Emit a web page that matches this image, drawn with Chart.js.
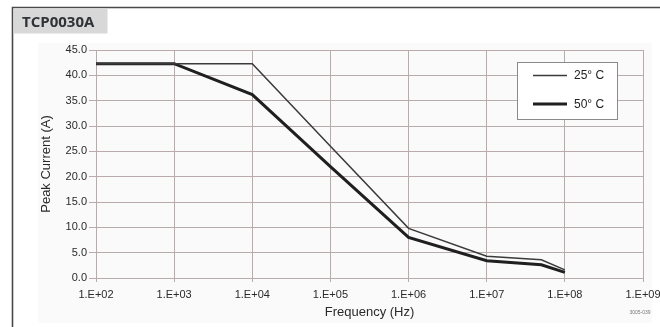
<!DOCTYPE html>
<html>
<head>
<meta charset="utf-8">
<script src="https://cdn.jsdelivr.net/npm/chart.js@4"></script>
<style>
  html, body { margin: 0; padding: 0; background: #fff; }
  #wrap { width: 660px; height: 327px; position: relative; }
</style>
</head>
<body>
<div id="wrap"><canvas id="c" width="660" height="327"></canvas></div>
<script>
// Peak current derating vs. frequency, TCP0030A
const freqHz = [1e2, 1e3, 1e4, 1e5, 1e6, 1e7, 5e7, 1e8];
const peak25C = [42.3, 42.3, 42.3, 26.0, 9.8, 4.3, 3.6, 1.6];
const peak50C = [42.3, 42.3, 36.2, 22.0, 8.0, 3.4, 2.6, 1.1];

const seriesLabels = ['25\u00B0 C', '50\u00B0 C'];
const freqTicks = [1e2, 1e3, 1e4, 1e5, 1e6, 1e7, 1e8, 1e9];
const freqTickLabels = ['1.E+02', '1.E+03', '1.E+04', '1.E+05', '1.E+06', '1.E+07', '1.E+08', '1.E+09'];
const currentTicks = [0, 5, 10, 15, 20, 25, 30, 35, 40, 45];
const currentTickLabels = ['0.0', '5.0', '10.0', '15.0', '20.0', '25.0', '30.0', '35.0', '40.0', '45.0'];

const toPoints = ys => freqHz.map((f, i) => ({ x: f, y: ys[i] }));

const FONT = "'Liberation Sans', Arial, sans-serif";
const GRID = '#b9abab';

// Page frame, title tab, legend box and figure number
const decor = {
  id: 'decor',
  beforeDraw(chart) {
    const ctx = chart.ctx;
    ctx.save();
    ctx.fillStyle = '#fafafa';
    ctx.fillRect(38, 43, 614, 280);
    ctx.restore();
  },
  afterDraw(chart) {
    const ctx = chart.ctx;
    ctx.save();
    // frame
    ctx.strokeStyle = '#4a4a4a';
    ctx.lineWidth = 1.6;
    ctx.beginPath();
    ctx.moveTo(12.5, 327);
    ctx.lineTo(12.5, 7.5);
    ctx.lineTo(660, 7.5);
    ctx.stroke();
    // title tab
    ctx.fillStyle = '#d8d8d8';
    ctx.fillRect(13.5, 8.5, 94, 25);
    ctx.fillStyle = '#2f3337';
    ctx.font = "bold 15px 'Open Sans', sans-serif";
    ctx.textBaseline = 'alphabetic';
    ctx.textAlign = 'left';
    ctx.fillText('TCP0030A', 22, 27);

    // legend
    const bx = 517.5, by = 62.5, bw = 100, bh = 57;
    ctx.fillStyle = '#ffffff';
    ctx.fillRect(bx, by, bw, bh);
    ctx.strokeStyle = '#8a8a8a';
    ctx.lineWidth = 1;
    ctx.strokeRect(bx, by, bw, bh);
    const rows = [75.5, 104];
    chart.data.datasets.forEach((ds, i) => {
      const y = rows[i];
      ctx.strokeStyle = ds.borderColor;
      ctx.lineWidth = ds.borderWidth;
      ctx.beginPath();
      ctx.moveTo(533, y);
      ctx.lineTo(567, y);
      ctx.stroke();
      ctx.fillStyle = '#222';
      ctx.font = '12px ' + FONT;
      ctx.textBaseline = 'middle';
      ctx.fillText(ds.label, 574, y + 0.5);
    });

    // figure number
    ctx.fillStyle = '#777';
    ctx.font = '5px ' + FONT;
    ctx.textAlign = 'center';
    ctx.textBaseline = 'middle';
    ctx.fillText('3005-039', 640, 313);
    ctx.restore();
  }
};

new Chart(document.getElementById('c'), {
  type: 'line',
  data: {
    datasets: [
      { label: seriesLabels[0], data: toPoints(peak25C), borderColor: '#3a3a3a', borderWidth: 1.5 },
      { label: seriesLabels[1], data: toPoints(peak50C), borderColor: '#1f1f1f', borderWidth: 3 }
    ]
  },
  options: {
    responsive: false,
    animation: false,
    devicePixelRatio: 1,
    layout: { padding: { top: 50, right: 17, left: 0, bottom: 0 } },
    elements: { point: { radius: 0 }, line: { tension: 0, borderJoinStyle: 'miter' } },
    plugins: { legend: { display: false }, tooltip: { enabled: false } },
    scales: {
      x: {
        type: 'logarithmic',
        min: 1e2,
        max: 1e9,
        afterBuildTicks(scale) { scale.ticks = freqTicks.map(v => ({ value: v })); },
        afterFit(scale) { scale.height = 49; scale.paddingLeft = 0; scale.paddingRight = 0; },
        ticks: {
          autoSkip: false,
          maxRotation: 0,
          padding: 6,
          color: '#2a2a2a',
          font: { family: FONT, size: 11 },
          callback: v => freqTickLabels[freqTicks.indexOf(v)]
        },
        grid: { color: GRID, tickLength: 4, lineWidth: 1 },
        border: { color: GRID },
        title: {
          display: true,
          text: 'Frequency (Hz)',
          color: '#2a2a2a',
          font: { family: FONT, size: 13 },
          padding: { top: 0, bottom: 7 }
        }
      },
      y: {
        min: 0,
        max: 45,
        afterBuildTicks(scale) { scale.ticks = currentTicks.map(v => ({ value: v })); },
        afterFit(scale) { scale.width = 96; scale.paddingTop = 0; scale.paddingBottom = 0; },
        ticks: {
          padding: 2,
          color: '#2a2a2a',
          font: { family: FONT, size: 11 },
          callback: v => currentTickLabels[currentTicks.indexOf(v)]
        },
        grid: { color: GRID, tickLength: 7, lineWidth: 1 },
        border: { color: GRID },
        title: {
          display: true,
          text: 'Peak Current (A)',
          color: '#2a2a2a',
          font: { family: FONT, size: 13 },
          padding: { top: 39, bottom: 0 }
        }
      }
    }
  },
  plugins: [decor]
});
</script>
</body>
</html>
